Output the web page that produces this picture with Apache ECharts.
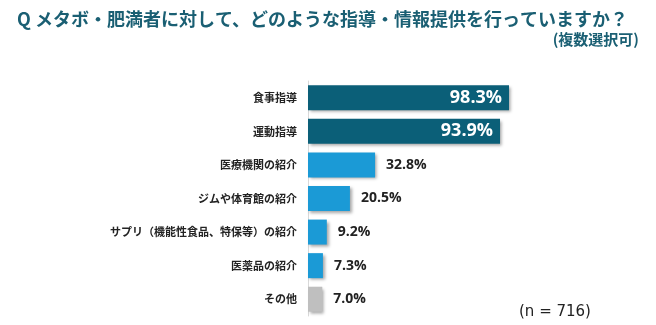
<!DOCTYPE html>
<html><head><meta charset="utf-8">
<script src="https://cdn.jsdelivr.net/npm/echarts@6/dist/echarts.min.js"></script>
<style>html,body{margin:0;padding:0;background:#fff}#c{width:656px;height:325px}</style>
</head><body><div id="c"></div>
<script>
const categories = ['食事指導','運動指導','医療機関の紹介','ジムや体育館の紹介','サプリ（機能性食品、特保等）の紹介','医薬品の紹介','その他'];
const values = [98.3, 93.9, 32.8, 20.5, 9.2, 7.3, 7.0];
const barColors = ['#0b5f78','#0b5f78','#1b9ad6','#1b9ad6','#1b9ad6','#1b9ad6','#bfbfbf'];
const insideLabel = [true, true, false, false, false, false, false];
const titleText = 'Q メタボ・肥満者に対して、どのような指導・情報提供を行っていますか？';
const subText = '(複数選択可)';
const noteText = '(n = 716)';

const chart = echarts.init(document.getElementById('c'));
const font = '"Noto Sans CJK JP", "Noto Sans", sans-serif';
chart.setOption({
  animation: false,
  textStyle: {fontFamily: font},
  title: [
    {text: titleText, left: 12, top: 5, textStyle: {fontFamily: font, fontSize: 18, fontWeight: 'bold', color: '#1a5f73'}},
    {text: subText, right: 12, top: 27, textStyle: {fontFamily: font, fontSize: 15, fontWeight: 'bold', color: '#1a5f73'}},
    {text: noteText, left: 514, top: 300, textStyle: {fontFamily: 'DejaVu Sans, sans-serif', fontSize: 15, fontWeight: 'normal', color: '#222'}}
  ],
  grid: {left: 308, top: 81, width: 204.5, height: 235, containLabel: false},
  xAxis: {type: 'value', min: 0, max: 100, show: false},
  yAxis: {
    type: 'category', data: categories, inverse: true,
    axisLine: {show: true, lineStyle: {color: '#d9d9d9', width: 1}},
    axisTick: {show: false},
    axisLabel: {fontFamily: font, fontSize: 11, fontWeight: 'bold', color: '#222', margin: 11}
  },
  series: [{
    type: 'bar', barWidth: 25,
    data: values.map((v, i) => ({
      value: v,
      itemStyle: {color: barColors[i], shadowColor: 'rgba(0,0,0,0.35)', shadowBlur: 3, shadowOffsetX: 2, shadowOffsetY: 2},
      label: insideLabel[i]
        ? {show: true, position: 'insideRight', distance: 7, color: '#fff', fontSize: 18, fontWeight: 'bold'}
        : {show: true, position: 'right', distance: 11, color: '#222', fontSize: 14, fontWeight: 'bold'}
    })),
    label: {formatter: p => p.value.toFixed(1) + '%', fontFamily: '"Open Sans", "Noto Sans", sans-serif'}
  }]
});
</script></body></html>
